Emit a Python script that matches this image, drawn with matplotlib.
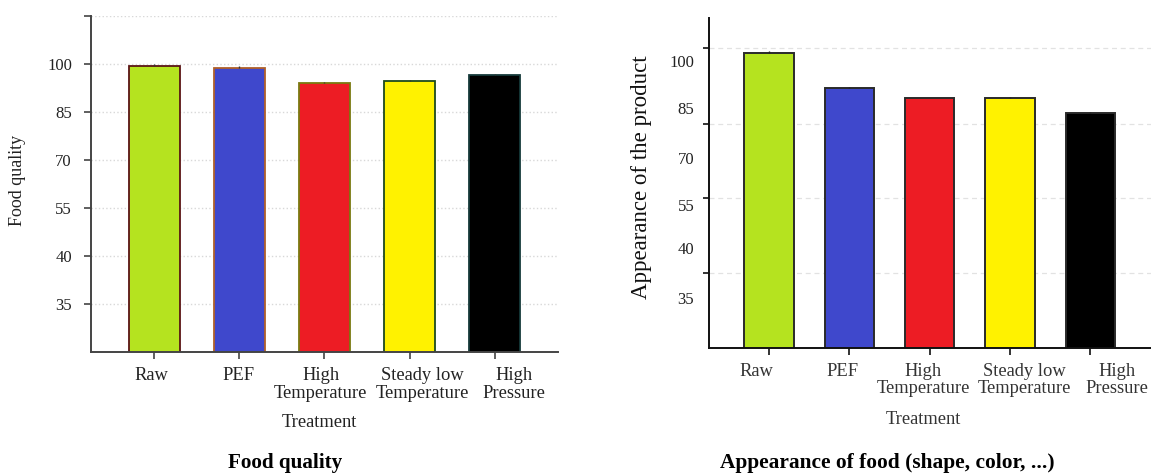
import matplotlib
matplotlib.use("Agg")
import matplotlib.pyplot as plt
import numpy as np
from matplotlib.ticker import FixedLocator, FixedFormatter, NullFormatter

plt.rcParams['font.family'] = ['Liberation Serif', 'DejaVu Serif']

# data
treatments = ['Raw', 'PEF', 'High\nTemperature', 'Steady low\nTemperature', 'High\nPressure']
colors = ['#b5e31f', '#3f48cc', '#ed1c24', '#fff200', '#000000']
edge_left = ['#5a1414', '#b0602a', '#7a7a10', '#1e4a1e', '#163a3a']
quality = [99.4, 98.9, 94.2, 94.8, 96.6]
quality_err = [0.5, 0.4, 0.3, 0.3, 0.4]
appearance = [102.6, 91.3, 88.2, 88.4, 83.5]
appearance_err = [0.6, 0.4, 0.2, 0.3, 0.3]
ytick_labels = [35, 40, 55, 70, 85, 100]

# the printed axes are not linear in value, so map label values to heights
left_vals = [0, 30, 35, 40, 55, 70, 85, 100, 115, 200]
left_pos = [-6, 0, 1, 2, 3, 4, 5, 6, 7, 12.67]
right_vals = [0, 30, 35, 40, 55, 70, 85, 100, 115, 200]
right_pos = [-300, 2.3, 50, 99.4, 142.7, 189.4, 239.4, 286.7, 334.0, 602.0]

# in the source the category labels sit a bit off their bars (pixels)
left_shift = np.array([-2.6, -0.7, -3.7, 12.5, 19.3])
right_shift = np.array([-13, -7, -6.4, 14, 27])


def make_scale(vals, pos):
    fwd = lambda v: np.interp(v, vals, pos)
    inv = lambda h: np.interp(h, pos, vals)
    return fwd, inv


def set_cat_ticks(ax, x, shift_px, px_per_unit):
    # tick marks under the bars, labels as minor ticks slightly displaced
    ax.xaxis.set_major_locator(FixedLocator(x))
    ax.xaxis.set_major_formatter(NullFormatter())
    ax.xaxis.set_minor_locator(FixedLocator(x + shift_px / px_per_unit))
    ax.xaxis.set_minor_formatter(FixedFormatter(treatments))
    for lab in ax.get_xticklabels(minor=True):
        lab.set_linespacing(1.05)


fig = plt.figure(figsize=(11.51, 4.73), dpi=100)
x = np.arange(len(treatments))

# ---- left: food quality
ax1 = fig.add_axes([0.0788, 0.2558, 0.406, 0.7104])
fwd1, inv1 = make_scale(left_vals, left_pos)
ax1.set_yscale('function', functions=(fwd1, inv1))
ax1.bar(x, quality, width=0.6, color=colors, edgecolor=edge_left, linewidth=1.3, zorder=2)
ax1.errorbar(x, quality, yerr=[[0] * 5, quality_err], fmt='none', ecolor='#333333',
             elinewidth=1, capsize=0, zorder=3)
ax1.set_xlim(-0.747, 4.744)
ax1.set_ylim(30, 115)
ax1.yaxis.set_major_locator(FixedLocator(ytick_labels + [115]))
ax1.yaxis.set_major_formatter(FixedFormatter([str(v) for v in ytick_labels] + ['']))
ax1.yaxis.set_minor_locator(FixedLocator([]))
set_cat_ticks(ax1, x, left_shift, 85.1)
ax1.grid(axis='y', linestyle=':', color='#d8d8d8', linewidth=1, zorder=0)
for s in ['top', 'right']:
    ax1.spines[s].set_visible(False)
for s in ['left', 'bottom']:
    ax1.spines[s].set_color('#444444')
    ax1.spines[s].set_linewidth(1.4)
ax1.tick_params(axis='y', length=5, width=1.2, color='#444444', labelsize=12, pad=8.5, labelcolor='#222222')
ax1.tick_params(axis='x', which='major', length=5, width=1.2, color='#444444')
ax1.tick_params(axis='x', which='minor', length=0, labelsize=13.3, pad=11, labelcolor='#222222')
ax1.set_ylabel('Food quality', fontsize=13, color='#222222', va='center')
ax1.yaxis.set_label_coords(-0.1556, 0.512)
ax1.set_xlabel('Treatment', fontsize=13.3, color='#222222', va='center')
ax1.xaxis.set_label_coords(0.489, -0.211)

# ---- right: appearance
ax2 = fig.add_axes([0.6162, 0.2649, 0.3838, 0.697])
fwd2, inv2 = make_scale(right_vals, right_pos)
ax2.set_yscale('function', functions=(fwd2, inv2))
ax2.bar(x, appearance, width=0.614, color=colors, edgecolor='#2a2a2a', linewidth=1.4, zorder=2)
ax2.errorbar(x, appearance, yerr=[[0] * 5, appearance_err], fmt='none', ecolor='#222222',
             elinewidth=1, capsize=0, zorder=3)
ax2.set_xlim(-0.743, 4.757)
ax2.set_ylim(float(inv2(0)), float(inv2(329.7)))
grid_vals = inv2(np.array([74.4, 150.0, 224.0, 299.4]))
ax2.yaxis.set_major_locator(FixedLocator(grid_vals))
ax2.yaxis.set_major_formatter(NullFormatter())
ax2.yaxis.set_minor_locator(FixedLocator(ytick_labels))
ax2.yaxis.set_minor_formatter(FixedFormatter([str(v) for v in ytick_labels]))
set_cat_ticks(ax2, x, right_shift, 80.3)
ax2.grid(axis='y', which='major', linestyle=(0, (4, 3)), color='#e2e2e2', linewidth=0.9, zorder=0)
for s in ['top', 'right']:
    ax2.spines[s].set_visible(False)
for s in ['left', 'bottom']:
    ax2.spines[s].set_color('#111111')
    ax2.spines[s].set_linewidth(1.4)
ax2.tick_params(axis='y', which='major', length=4, width=1.2, color='#111111')
ax2.tick_params(axis='y', which='minor', length=0, labelsize=12, pad=10.8, labelcolor='#222222')
ax2.tick_params(axis='x', which='major', length=5, width=1.2, color='#111111')
ax2.tick_params(axis='x', which='minor', length=0, labelsize=13.3, pad=10.8, labelcolor='#333333')
ax2.set_ylabel('Appearance of the product', fontsize=16.5, color='#111111', va='center')
ax2.yaxis.set_label_coords(-0.153, 0.516)
ax2.set_xlabel('Treatment', fontsize=13.3, color='#333333', va='center')
ax2.xaxis.set_label_coords(0.484, -0.219)

# captions under each panel
fig.text(285 / 1151, 1 - 462.7 / 473, 'Food quality', fontsize=15.2, fontweight='bold',
         ha='center', va='center')
fig.text(887.7 / 1151, 1 - 463.3 / 473, 'Appearance of food (shape, color, ...)', fontsize=15.4,
         fontweight='bold', ha='center', va='center')

fig.savefig('out.png', dpi=100, facecolor='white')
